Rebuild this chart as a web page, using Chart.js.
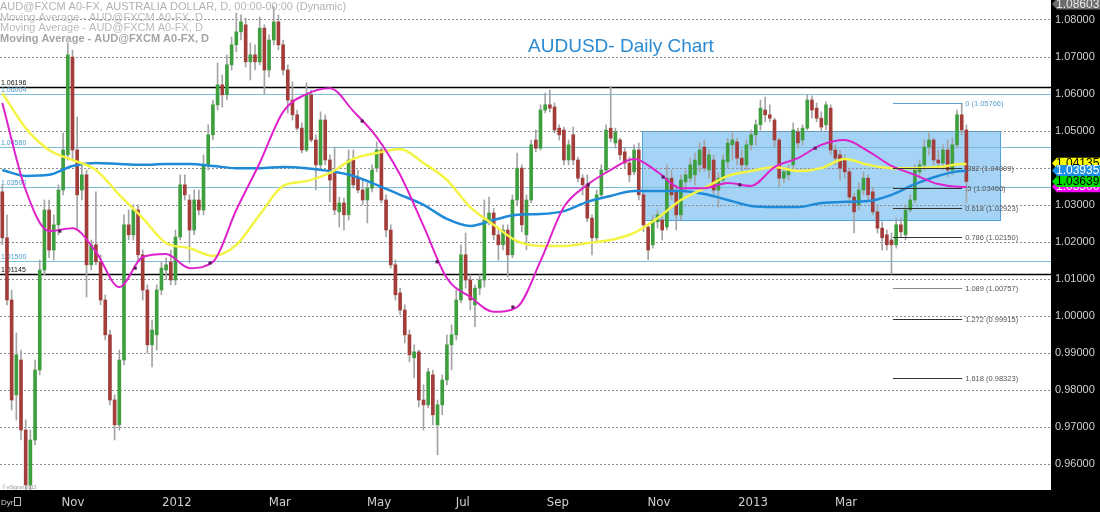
<!DOCTYPE html>
<html><head><meta charset="utf-8">
<script src="https://cdn.jsdelivr.net/npm/chart.js@4.4.1/dist/chart.umd.min.js"></script>
<style>html,body{margin:0;padding:0;background:#000;}#wrap{width:1100px;height:512px;position:relative;}</style>
</head><body><div id="wrap"><canvas id="c" width="1100" height="512"></canvas></div>
<script>
// ---- Price data (each candle ~2 trading days), AUDUSD daily, Sep 2011 - Apr 2013 ----
const openP = [1.0336,1.0212,1.0044,0.9788,0.9882,0.9693,0.9545,0.9666,0.9855,1.0125,
1.0287,1.0179,1.0247,1.0341,1.0436,1.0700,1.0449,1.0341,1.0382,1.0139,
1.0193,1.0147,1.0044,0.9950,0.9774,0.9707,0.9882,1.0247,1.0220,1.0287,
1.0166,1.0071,0.9923,0.9950,1.0071,1.0125,1.0147,1.0098,1.0214,1.0355,
1.0314,1.0233,1.0314,1.0287,1.0409,1.0490,1.0571,1.0625,1.0598,1.0679,
1.0733,1.0768,1.0787,1.0687,1.0706,1.0687,1.0778,1.0665,1.0746,1.0795,
1.0733,1.0665,1.0584,1.0544,1.0508,1.0449,1.0598,1.0476,1.0409,1.0530,
1.0422,1.0390,1.0282,1.0306,1.0274,1.0422,1.0373,1.0341,1.0314,1.0346,
1.0400,1.0449,1.0314,1.0233,1.0139,1.0063,1.0017,0.9950,0.9888,0.9904,
0.9774,0.9761,0.9842,0.9707,0.9761,0.9828,0.9923,0.9950,1.0044,1.0166,
1.0098,1.0031,1.0076,1.0098,1.0260,1.0279,1.0220,1.0193,1.0233,1.0166,
1.0314,1.0400,1.0220,1.0314,1.0476,1.0454,1.0557,1.0571,1.0565,1.0508,
1.0503,1.0422,1.0490,1.0422,1.0373,1.0355,1.0265,1.0212,1.0328,1.0395,
1.0508,1.0468,1.0476,1.0444,1.0414,1.0390,1.0449,1.0328,1.0241,1.0193,
1.0255,1.0260,1.0241,1.0373,1.0336,1.0274,1.0363,1.0373,1.0382,1.0409,
1.0457,1.0395,1.0422,1.0341,1.0368,1.0417,1.0463,1.0471,1.0427,1.0409,
1.0463,1.0490,1.0517,1.0557,1.0544,1.0530,1.0476,1.0373,1.0382,1.0409,
1.0498,1.0476,1.0508,1.0584,1.0562,1.0535,1.0517,1.0562,1.0449,1.0436,
1.0422,1.0390,1.0322,1.0301,1.0341,1.0373,1.0336,1.0282,1.0238,1.0220,
1.0206,1.0193,1.0247,1.0220,1.0287,1.0314,1.0390,1.0409,1.0457,1.0476,
1.0422,1.0414,1.0449,1.0395,1.0463,1.0544,1.0503];
const highP = [1.0355,1.0274,1.0071,0.9955,0.9909,0.9720,0.9693,0.9882,1.0152,1.0314,
1.0314,1.0274,1.0355,1.0495,1.0738,1.0719,1.0538,1.0409,1.0395,1.0206,
1.0336,1.0166,1.0058,0.9963,0.9788,0.9909,1.0274,1.0287,1.0301,1.0301,
1.0179,1.0085,0.9990,1.0085,1.0147,1.0158,1.0179,1.0233,1.0382,1.0382,
1.0328,1.0341,1.0341,1.0436,1.0517,1.0584,1.0684,1.0652,1.0706,1.0754,
1.0819,1.0814,1.0805,1.0738,1.0733,1.0808,1.0787,1.0760,1.0835,1.0814,
1.0746,1.0679,1.0633,1.0557,1.0522,1.0630,1.0611,1.0490,1.0552,1.0544,
1.0436,1.0457,1.0322,1.0319,1.0449,1.0449,1.0395,1.0373,1.0360,1.0409,
1.0471,1.0454,1.0328,1.0247,1.0152,1.0076,1.0031,0.9963,0.9923,0.9909,
0.9815,0.9860,0.9855,0.9774,0.9842,0.9950,0.9977,1.0071,1.0193,1.0225,
1.0112,1.0085,1.0112,1.0314,1.0322,1.0292,1.0238,1.0247,1.0247,1.0328,
1.0441,1.0409,1.0328,1.0476,1.0503,1.0571,1.0603,1.0611,1.0576,1.0517,
1.0511,1.0476,1.0511,1.0430,1.0382,1.0382,1.0274,1.0341,1.0409,1.0517,
1.0619,1.0508,1.0481,1.0454,1.0430,1.0463,1.0468,1.0341,1.0247,1.0274,
1.0287,1.0274,1.0409,1.0395,1.0355,1.0382,1.0395,1.0427,1.0441,1.0468,
1.0476,1.0449,1.0436,1.0387,1.0436,1.0481,1.0495,1.0481,1.0449,1.0476,
1.0503,1.0530,1.0584,1.0592,1.0571,1.0535,1.0481,1.0400,1.0409,1.0522,
1.0508,1.0517,1.0598,1.0595,1.0576,1.0552,1.0579,1.0571,1.0463,1.0449,
1.0436,1.0400,1.0333,1.0360,1.0390,1.0382,1.0349,1.0301,1.0255,1.0233,
1.0225,1.0265,1.0265,1.0301,1.0328,1.0409,1.0422,1.0476,1.0495,1.0481,
1.0449,1.0463,1.0476,1.0481,1.0557,1.0576,1.0517];
const lowP = [1.0193,1.0031,0.9747,0.9720,0.9666,0.9450,0.9500,0.9653,0.9842,1.0112,
1.0158,1.0152,1.0220,1.0328,1.0422,1.0422,1.0233,1.0314,1.0052,1.0125,
1.0139,1.0031,0.9936,0.9761,0.9666,0.9693,0.9869,1.0206,1.0206,1.0147,
1.0044,0.9901,0.9863,0.9909,1.0058,1.0098,1.0085,1.0085,1.0206,1.0314,
1.0144,1.0220,1.0274,1.0274,1.0395,1.0476,1.0557,1.0565,1.0584,1.0665,
1.0714,1.0746,1.0673,1.0638,1.0665,1.0679,1.0598,1.0646,1.0733,1.0719,
1.0652,1.0549,1.0530,1.0503,1.0441,1.0444,1.0471,1.0341,1.0395,1.0409,
1.0309,1.0274,1.0241,1.0233,1.0260,1.0346,1.0333,1.0301,1.0252,1.0336,
1.0390,1.0306,1.0214,1.0130,1.0044,1.0004,0.9928,0.9877,0.9834,0.9755,
0.9693,0.9753,0.9707,0.9626,0.9734,0.9815,0.9855,0.9936,1.0036,1.0076,
1.0017,0.9972,1.0058,1.0079,1.0247,1.0206,1.0152,1.0179,1.0106,1.0158,
1.0301,1.0228,1.0179,1.0306,1.0444,1.0449,1.0549,1.0552,1.0495,1.0476,
1.0409,1.0409,1.0409,1.0363,1.0328,1.0255,1.0166,1.0198,1.0319,1.0387,
1.0471,1.0454,1.0422,1.0400,1.0363,1.0382,1.0314,1.0228,1.0152,1.0184,
1.0238,1.0206,1.0233,1.0314,1.0233,1.0260,1.0336,1.0363,1.0355,1.0390,
1.0390,1.0373,1.0328,1.0295,1.0355,1.0400,1.0422,1.0409,1.0387,1.0395,
1.0449,1.0463,1.0503,1.0525,1.0525,1.0457,1.0349,1.0360,1.0368,1.0395,
1.0454,1.0463,1.0503,1.0535,1.0525,1.0498,1.0503,1.0436,1.0409,1.0368,
1.0373,1.0301,1.0225,1.0287,1.0328,1.0314,1.0274,1.0225,1.0179,1.0179,
1.0114,1.0184,1.0212,1.0206,1.0282,1.0306,1.0373,1.0395,1.0436,1.0409,
1.0400,1.0395,1.0376,1.0382,1.0454,1.0490,1.0306];
const closeP = [1.0212,1.0044,0.9774,0.9896,0.9693,0.9545,0.9666,0.9855,1.0125,1.0287,
1.0179,1.0247,1.0341,1.0449,1.0706,1.0449,1.0328,1.0382,1.0139,1.0193,
1.0147,1.0044,0.9950,0.9774,0.9707,0.9882,1.0247,1.0220,1.0287,1.0166,
1.0071,0.9923,0.9963,1.0071,1.0130,1.0139,1.0098,1.0214,1.0355,1.0328,
1.0233,1.0314,1.0287,1.0409,1.0490,1.0571,1.0625,1.0598,1.0679,1.0733,
1.0768,1.0795,1.0687,1.0706,1.0687,1.0778,1.0665,1.0746,1.0795,1.0733,
1.0665,1.0584,1.0544,1.0508,1.0449,1.0598,1.0476,1.0409,1.0530,1.0422,
1.0368,1.0287,1.0306,1.0274,1.0422,1.0355,1.0341,1.0314,1.0346,1.0395,
1.0449,1.0314,1.0233,1.0139,1.0058,1.0017,0.9950,0.9896,0.9904,0.9774,
0.9761,0.9850,0.9734,0.9761,0.9828,0.9923,0.9950,1.0044,1.0166,1.0098,
1.0044,1.0076,1.0098,1.0260,1.0279,1.0220,1.0193,1.0233,1.0166,1.0314,
1.0400,1.0247,1.0314,1.0463,1.0454,1.0557,1.0571,1.0562,1.0503,1.0490,
1.0422,1.0463,1.0422,1.0373,1.0355,1.0265,1.0212,1.0328,1.0395,1.0503,
1.0481,1.0498,1.0436,1.0414,1.0382,1.0449,1.0328,1.0247,1.0179,1.0260,
1.0274,1.0233,1.0373,1.0328,1.0274,1.0368,1.0382,1.0409,1.0422,1.0449,
1.0400,1.0436,1.0341,1.0373,1.0422,1.0468,1.0476,1.0427,1.0409,1.0463,
1.0490,1.0517,1.0562,1.0544,1.0535,1.0476,1.0373,1.0390,1.0395,1.0503,
1.0468,1.0508,1.0584,1.0557,1.0535,1.0511,1.0571,1.0449,1.0427,1.0400,
1.0390,1.0322,1.0282,1.0341,1.0373,1.0328,1.0282,1.0238,1.0212,1.0193,
1.0193,1.0247,1.0228,1.0287,1.0314,1.0395,1.0409,1.0457,1.0476,1.0422,
1.0414,1.0449,1.0395,1.0463,1.0544,1.0503,1.0364];

// ---- Moving averages, sampled every 5 candles ----
const maIdx = [0,5,10,15,20,25,30,35,40,45,50,55,60,65,70,75,80,85,90,95,100,105,110,115,120,125,130,135,140,145,150,155,160,165,170,175,180,185,190,195,200,205,206];
const maFast = [1.0576,1.0341,1.0230,1.0238,1.0174,1.0079,1.0160,1.0168,1.0130,1.0147,1.0287,1.0414,1.0552,1.0600,1.0616,1.0554,1.0484,1.0382,1.0244,1.0103,1.0052,1.0012,1.0025,1.0149,1.0295,1.0355,1.0395,1.0425,1.0390,1.0346,1.0346,1.0360,1.0352,1.0403,1.0427,1.0463,1.0476,1.0446,1.0406,1.0382,1.0357,1.0349,1.0349];
const maMid = [1.0603,1.0508,1.0449,1.0422,1.0395,1.0328,1.0265,1.0198,1.0184,1.0163,1.0193,1.0274,1.0352,1.0365,1.0387,1.0425,1.0441,1.0452,1.0414,1.0368,1.0295,1.0247,1.0203,1.0190,1.0190,1.0198,1.0206,1.0225,1.0265,1.0314,1.0346,1.0379,1.0392,1.0403,1.0392,1.0400,1.0425,1.0409,1.0400,1.0400,1.0403,1.0411,1.0411];
const maSlow = [1.0395,1.0379,1.0382,1.0406,1.0414,1.0411,1.0409,1.0411,1.0411,1.0406,1.0400,1.0400,1.0403,1.0400,1.0392,1.0379,1.0355,1.0328,1.0301,1.0263,1.0244,1.0260,1.0274,1.0276,1.0284,1.0309,1.0325,1.0338,1.0338,1.0338,1.0330,1.0314,1.0298,1.0295,1.0295,1.0306,1.0309,1.0311,1.0328,1.0357,1.0379,1.0392,1.0392];
const markerIdx = [12.3,28.4,44.4,76.9,92.9,109.1,125.2,141.2,157.6,173.7];
const markerVal = [1.0230,1.0130,1.0144,1.0527,1.0147,1.0025,1.0355,1.0376,1.0355,1.0454];

// ---- Axes ----
const yTicks = [0.96,0.97,0.98,0.99,1.00,1.01,1.02,1.03,1.04,1.05,1.06,1.07,1.08];
const xTickIdx = [15.1,37.3,59.3,80.5,98.4,118.7,140.3,160.4,180.3];
const xTickLabels = ['Nov','2012','Mar','May','Jul','Sep','Nov','2013','Mar'];

// ---- Annotations ----
const levelValues = [1.06196,1.06004,1.04580,1.03500,1.01500,1.01145];
const levelLabels = ['1.06196','1.06004','1.04580','1.03500','1.01500','1.01145'];
const fibRatios = ['0','.382','.5','0.618','0.786','1.089','1.272','1.618'];
const fibLevels = [1.05766,1.04009,1.03466,1.02923,1.02150,1.00757,0.99915,0.98323];
const fibIdx = [190.3,205.1];
const boxIdx = [136.7,213.2];
const boxPrice = [1.0500,1.0260];
const tagValues = [1.04135,1.03935,1.03500,1.03639];
const tagLabels = ['1.04135','1.03935','1.03500','1.03639'];
const axisTopValue = '1.08603';

const UP='#3f9f3f', DOWN='#a33d3a', WICK='#a4a4a4';
const FONT = "'Liberation Sans', Arial, sans-serif";

const wickData = openP.map((o,i)=>({x:i, y:[lowP[i], highP[i]]}));
const bodyData = openP.map((o,i)=>({x:i, y:[o, closeP[i]]}));
const pts = arr => maIdx.map((x,i)=>({x, y:arr[i]}));

const bgPlugin = {
  id:'bg',
  beforeDraw(chart){
    const {ctx, chartArea:a, scales:{x,y}} = chart;
    ctx.save();
    ctx.fillStyle='#000'; ctx.fillRect(0,0,chart.width,chart.height);
    ctx.fillStyle='#fff'; ctx.fillRect(a.left,a.top,a.right-a.left,a.bottom-a.top);
    const x0=Math.round(x.getPixelForValue(boxIdx[0])), x1=Math.round(x.getPixelForValue(boxIdx[1]));
    const y0=Math.round(y.getPixelForValue(boxPrice[0])), y1=Math.round(y.getPixelForValue(boxPrice[1]));
    ctx.fillStyle='#a5d3f6'; ctx.fillRect(x0,y0,x1-x0,y1-y0);
    ctx.strokeStyle='#4da3e0'; ctx.lineWidth=1; ctx.strokeRect(x0+0.5,y0+0.5,x1-x0,y1-y0);
    ctx.restore();
  },
  beforeDatasetsDraw(chart){
    const {ctx, chartArea:a, scales:{y}} = chart;
    ctx.save();
    levelValues.forEach((v,i)=>{
      const major = (i===0 || i===levelValues.length-1);
      const py = Math.round(y.getPixelForValue(v))+0.5;
      ctx.strokeStyle = major ? '#000' : '#7dbcd8';
      ctx.lineWidth = major ? 1.6 : 1;
      ctx.beginPath(); ctx.moveTo(a.left,py); ctx.lineTo(a.right,py); ctx.stroke();
      ctx.fillStyle = major ? '#111' : '#4a9ccc';
      ctx.font = '7px '+FONT; ctx.textBaseline='bottom'; ctx.textAlign='left';
      ctx.fillText(levelLabels[i], 1, py-1);
    });
    ctx.restore();
  },
  afterDatasetsDraw(chart){
    const {ctx, scales:{x,y}} = chart;
    ctx.save();
    const fx0 = x.getPixelForValue(fibIdx[0]), fx1 = x.getPixelForValue(fibIdx[1]);
    fibLevels.forEach((v,i)=>{
      const py = Math.round(y.getPixelForValue(v))+0.5;
      const col = i===0 ? '#5a9fd0' : (i===5 ? '#8a8a8a' : '#333');
      ctx.strokeStyle = col; ctx.lineWidth=1;
      ctx.beginPath(); ctx.moveTo(fx0,py); ctx.lineTo(fx1,py); ctx.stroke();
      ctx.fillStyle = i===0 ? '#5a9fd0' : '#555';
      ctx.font='7.5px '+FONT; ctx.textBaseline='middle'; ctx.textAlign='left';
      ctx.fillText(fibRatios[i]+' ('+v.toFixed(5)+')', fx1+3, py);
    });
    ctx.restore();
  },
  afterDraw(chart){
    const {ctx, chartArea:a, scales:{y}} = chart;
    ctx.save();
    ctx.fillStyle='#2a8ad2'; ctx.font='19px '+FONT; ctx.textAlign='center'; ctx.textBaseline='alphabetic';
    ctx.fillText('AUDUSD- Daily Chart', 621, 52);
    ctx.textAlign='left';
    ctx.font='11px '+FONT; ctx.fillStyle='#b2b2b2';
    ctx.fillText('AUD@FXCM A0-FX, AUSTRALIA DOLLAR, D, 00:00-00:00 (Dynamic)', 0, 10);
    ctx.fillStyle='#bababa';
    ctx.fillText('Moving Average - AUD@FXCM A0-FX, D', 0, 21);
    ctx.fillText('Moving Average - AUD@FXCM A0-FX, D', 0, 31);
    ctx.font='bold 11px '+FONT; ctx.fillStyle='#a4a4a4';
    ctx.fillText('Moving Average - AUD@FXCM A0-FX, D', 0, 42);
    ctx.font='5px '+FONT; ctx.fillStyle='#999';
    ctx.fillText('\u00a9 eSignal 2013', 2, 489);
    ctx.font='8px '+FONT; ctx.fillStyle='#cfcfcf';
    ctx.fillText('Dyn', 1, 505);
    ctx.strokeStyle='#bbb'; ctx.lineWidth=1; ctx.strokeRect(14.5,497.5,6,8);
    const tag = (yc, text, bg, fg) => {
      const x0 = a.right, h = 11;
      ctx.fillStyle = bg;
      ctx.beginPath(); ctx.moveTo(x0+1, yc); ctx.lineTo(x0+6, yc-h/2); ctx.lineTo(1100, yc-h/2);
      ctx.lineTo(1100, yc+h/2); ctx.lineTo(x0+6, yc+h/2); ctx.closePath(); ctx.fill();
      ctx.fillStyle = fg; ctx.font='12px '+FONT; ctx.textBaseline='middle'; ctx.textAlign='left';
      ctx.fillText(text, x0+5, yc+0.5);
    };
    tag(4, axisTopValue, '#6c6c6c', '#e8e8e8');
    const cols = [['#ffff00','#000'],['#1a8fe8','#fff'],['#ff00ff','#fff'],['#00dc00','#000']];
    tagValues.forEach((v,i)=>tag(y.getPixelForValue(v), tagLabels[i], cols[i][0], cols[i][1]));
    ctx.restore();
  }
};

new Chart(document.getElementById('c'), {
  type:'bar',
  data:{ datasets:[
    {type:'scatter', data: markerIdx.map((x,i)=>({x, y:markerVal[i]})), pointStyle:'rect', pointRadius:2.2, backgroundColor:'#5a1a5a', borderWidth:0, order:0},
    {type:'line', data: pts(maFast), borderColor:'#dd22cc', borderWidth:2, pointRadius:0, cubicInterpolationMode:'monotone', order:1},
    {type:'line', data: pts(maMid), borderColor:'#f4f444', borderWidth:2.5, pointRadius:0, cubicInterpolationMode:'monotone', order:2},
    {type:'line', data: pts(maSlow), borderColor:'#1f8ad8', borderWidth:2.5, pointRadius:0, cubicInterpolationMode:'monotone', order:3},
    {data: bodyData, grouped:false, barThickness:3, borderWidth:0, borderSkipped:false,
     backgroundColor: c => closeP[c.dataIndex] >= openP[c.dataIndex] ? UP : DOWN, order:10},
    {data: wickData, grouped:false, barThickness:1, borderWidth:0, borderSkipped:false,
     backgroundColor: WICK, order:11}
  ]},
  options:{
    responsive:false, devicePixelRatio:1, animation:false, events:[],
    layout:{padding:0, autoPadding:false},
    plugins:{legend:{display:false}, tooltip:{enabled:false}, title:{display:false}},
    scales:{
      x:{type:'linear', position:'bottom', min:-0.49, max:224.08, offset:false,
        grid:{display:false, drawTicks:false, offset:false}, border:{display:false},
        ticks:{autoSkip:false, maxRotation:0, minRotation:0, padding:5, color:'#d0d0d0',
          font:{family:"'Liberation Sans Narrow','Arial Narrow','DejaVu Sans Condensed',sans-serif", size:13},
          callback:(v,i)=>xTickLabels[i]},
        afterBuildTicks:s=>{ s.ticks = xTickIdx.map(v=>({value:v})); },
        afterFit:s=>{ s.height=22; s.paddingLeft=0; s.paddingRight=0; }
      },
      y:{type:'linear', position:'right', min:0.9531, max:1.0854,
        grid:{color:'#8c8c8c', lineWidth:1, drawTicks:false},
        border:{display:false, dash:[2,2]},
        ticks:{color:'#d0d0d0', padding:4, font:{family:FONT, size:11}, callback:v=>v.toFixed(5)},
        afterBuildTicks:s=>{ s.ticks = yTicks.map(v=>({value:v})); },
        afterFit:s=>{ s.width=49; s.paddingTop=0; s.paddingBottom=0; }
      }
    }
  },
  plugins:[bgPlugin]
});
</script></body></html>
